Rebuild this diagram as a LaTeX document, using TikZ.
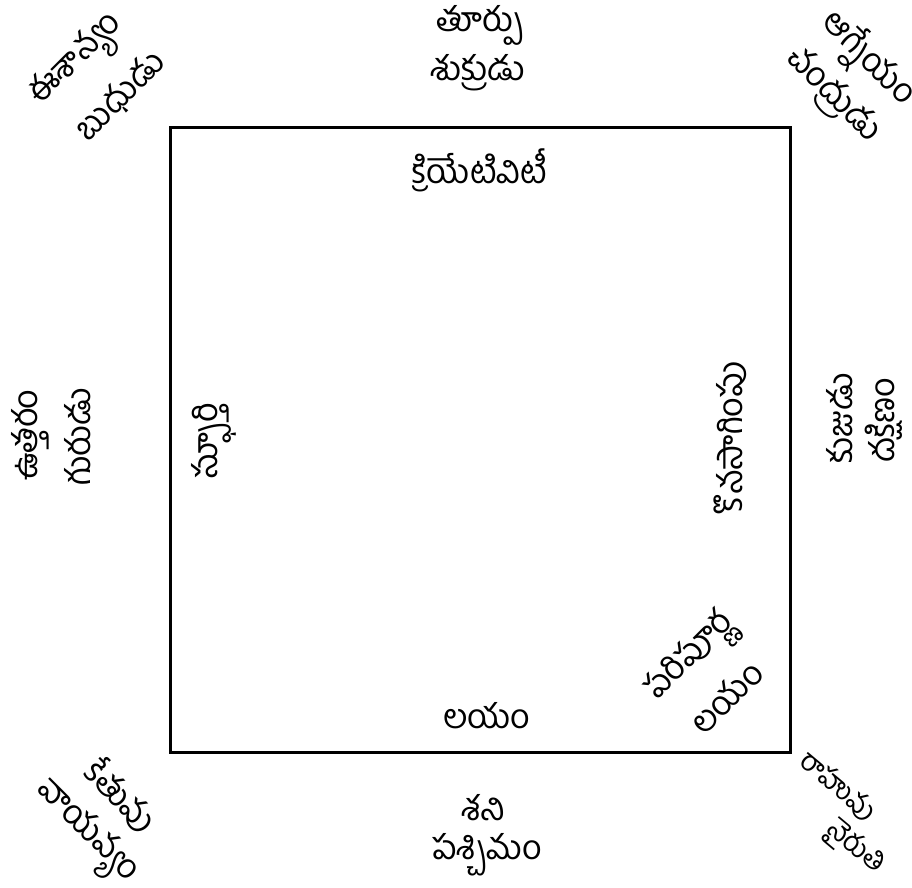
\documentclass[tikz,border=0pt]{standalone}
\usepackage{fontspec}
\newfontfamily\tel[Script=Telugu]{Hind Guntur}

\begin{document}
\begin{tikzpicture}[x=0.5pt, y=-0.5pt, font=\tel\fontsize{17}{19}\selectfont,
  lbl/.style={inner sep=0pt},
  small/.style={inner sep=0pt, font=\tel\fontsize{14}{16}\selectfont}]
  \useasboundingbox (0,0) rectangle (912,888);
  % the plot
  \draw[line width=1.5pt] (170,128) rectangle (790,752);
  % directions and planets
  \node[lbl] (east)  at (480,25)  {తూర్పు};
  \node[lbl] (sukra) at (478,73)  {శుక్రుడు};
  \node[lbl] (west)  at (487,855) {పశ్చిమం};
  \node[lbl] (sani)  at (483,808) {శని};
  \node[lbl, rotate=90] (north) at (30,435) {ఉత్తరం};
  \node[lbl, rotate=90] (guru)  at (78,437) {గురుడు};
  \node[lbl, rotate=90] (kuja)  at (840,418) {కుజుడు};
  \node[lbl, rotate=90] (south) at (884,420) {దక్షిణం};
  \node[lbl, rotate=45]  (ne)    at (78,62)   {ఈశాన్యం};
  \node[lbl, rotate=45]  (budha) at (121,96)  {బుధుడు};
  \node[lbl, rotate=-45] (se)    at (867,60)  {ఆగ్నేయం};
  \node[lbl, rotate=-45] (moon)  at (832,96)  {చంద్రుడు};
  \node[lbl, rotate=-45] (ketu)  at (122,795) {కేతువు};
  \node[lbl, rotate=-45] (nw)    at (85,833)  {వాయవ్యం};
  \node[small, rotate=-40] (rahu) at (838,786) {రాహువు};
  \node[small, rotate=-40] (sw)   at (855,848) {నైరుతి};
  % inside the plot
  \node[lbl] (creat) at (480,170) {క్రియేటివిటీ};
  \node[lbl] (laya)  at (487,716) {లయం};
  \node[lbl, rotate=90] (insp)  at (214,441) {స్ఫూర్తి};
  \node[lbl, rotate=90] (cont)  at (730,438) {కొనసాగింపు};
  \node[lbl, rotate=45] (pari)  at (692,659) {పరిపూర్ణ};
  \node[lbl, rotate=45] (laya2) at (726,697) {లయం};
\end{tikzpicture}
\end{document}
